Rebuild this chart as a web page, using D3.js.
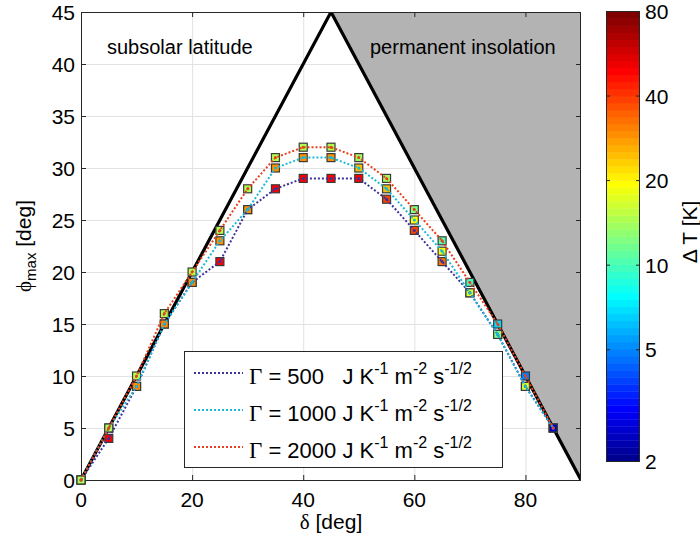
<!DOCTYPE html>
<html><head><meta charset="utf-8">
<script src="https://cdn.jsdelivr.net/npm/d3@7/dist/d3.min.js"></script>
<style>
body{margin:0;background:#fff;}
svg text{font-family:"Liberation Sans",Arial,sans-serif;fill:#000;}
</style></head><body>
<svg id="chart" width="700" height="545"></svg>
<script>
// ---- data ----
const delta = [0,5,10,15,20,25,30,35,40,45,50,55,60,65,70,75,80,85];
const phi500  = [0,4,9,15,19,21,26,28,29,29,29,27,24,21,18,14,9,5];
const phi1000 = [0,5,9,15,19,23,26,30,31,31,30,28,25,22,18,14,9,5];
const phi2000 = [0,5,10,16,20,24,28,31,32,32,31,29,26,23,19,15,10,5];
const dT500  = [15,48,48,48,48,48,48,48,48,48,48,40,38,32,17,13,17,2.5];
const dT1000 = [15,15,29,29,29,29,29,29,29,29,25,24,20,20,16.5,12.5,16.5,2.5];
const dT2000 = [14.5,14.5,14.5,14.5,14.5,14.5,14.5,14.5,14.5,14.5,13.5,13.5,12,10.5,10,6.8,5,2.4];
const seriesNames = ["500  ", "1000", "2000"];
const seriesColors = ["#3c3399", "#1cb8d8", "#e8401e"];
const xTicks = [0,20,40,60,80];
const yTicks = [0,5,10,15,20,25,30,35,40,45];
const cbTicks = [2,5,10,20,40,80];

const svg = d3.select("#chart");
const x = d3.scaleLinear().domain([0,90]).range([81,581]);
const y = d3.scaleLinear().domain([0,45]).range([480,12]);
const cb = d3.scaleLog().domain([2,80]).range([461.5,11.5]);

// MATLAB jet(64)
function jetMap(n){
  const m=16, J=d3.range(n).map(()=>[0,0,0]);
  const u=[]; for(let k=1;k<=16;k++)u.push(k/16); for(let k=0;k<15;k++)u.push(1); for(let k=16;k>=1;k--)u.push(k/16);
  for(let k=0;k<u.length;k++){
    const g=9+k, r=g+m, b=g-m;
    if(r<=n) J[r-1][0]=u[k];
    if(g<=n) J[g-1][1]=u[k];
    if(b>=1) J[b-1][2]=u[k];
  }
  return J.map(c=>d3.rgb(c[0]*255,c[1]*255,c[2]*255).toString());
}
const jet = jetMap(64);
const cnorm = d3.scaleLog().domain([2,80]).range([0,1]).clamp(true);
const colorOf = v => jet[Math.min(63, Math.floor(cnorm(v)*64))];

// defs / clip
svg.append("defs").append("clipPath").attr("id","plotclip")
  .append("rect").attr("x",x(0)).attr("y",y(45)).attr("width",x(90)-x(0)).attr("height",y(0)-y(45));

// grid
const grid = svg.append("g").attr("stroke","#e2e2e2").attr("stroke-width",1);
xTicks.forEach(t=>{ if(t>0) grid.append("line").attr("x1",x(t)+0.5).attr("x2",x(t)+0.5).attr("y1",y(0)).attr("y2",y(45)); });
yTicks.forEach(t=>{ if(t>0&&t<45) grid.append("line").attr("x1",x(0)).attr("x2",x(90)).attr("y1",y(t)+0.5).attr("y2",y(t)+0.5); });

const plot = svg.append("g").attr("clip-path","url(#plotclip)");
// permanent insolation region
plot.append("path").attr("fill","#b3b3b3")
  .attr("d", d3.line()([[x(45),y(45)],[x(90),y(0)],[x(90),y(45)]]));
// triangle
plot.append("path").attr("fill","none").attr("stroke","#000").attr("stroke-width",3.2)
  .attr("d", d3.line()([[x(0),y(0)],[x(45),y(45)],[x(90),y(0)]]));

// frame + ticks
const frame = svg.append("g").attr("stroke","#262626").attr("stroke-width",1).attr("fill","none");
frame.append("rect").attr("x",x(0)+0.5).attr("y",y(45)+0.5).attr("width",x(90)-x(0)-1).attr("height",y(0)-y(45));
xTicks.forEach(t=>{
  frame.append("line").attr("x1",x(t)+0.5).attr("x2",x(t)+0.5).attr("y1",y(0)).attr("y2",y(0)-5);
  frame.append("line").attr("x1",x(t)+0.5).attr("x2",x(t)+0.5).attr("y1",y(45)).attr("y2",y(45)+5);
});
yTicks.forEach(t=>{
  frame.append("line").attr("x1",x(0)).attr("x2",x(0)+5).attr("y1",y(t)+0.5).attr("y2",y(t)+0.5);
  frame.append("line").attr("x1",x(90)).attr("x2",x(90)-5).attr("y1",y(t)+0.5).attr("y2",y(t)+0.5);
});

// squares (drawn above the frame, unclipped)
const phis=[phi500,phi1000,phi2000], dTs=[dT500,dT1000,dT2000];
const marks = svg.append("g");
phis.forEach((p,si)=>{
  marks.append("g").selectAll("rect").data(delta.map((d,i)=>({d,p:p[i],t:dTs[si][i]})))
    .join("rect")
    .attr("x",e=>x(e.d)-4).attr("y",e=>y(e.p)-4).attr("width",8).attr("height",8)
    .attr("fill",e=>colorOf(e.t)).attr("stroke","#3a3a3a").attr("stroke-width",1.2);
});
// lines
phis.forEach((p,si)=>{
  const pts = delta.map((d,i)=>[x(d),y(p[i])]);
  marks.append("path").attr("fill","none").attr("stroke",seriesColors[si]).attr("stroke-width",2)
    .attr("stroke-dasharray","2 2").attr("d",d3.line()(pts));
  marks.append("g").selectAll("circle").data(pts).join("circle")
    .attr("cx",q=>q[0]).attr("cy",q=>q[1]).attr("r",1.5).attr("fill",seriesColors[si]);
});

// tick labels
svg.append("g").selectAll("text").data(xTicks).join("text")
  .attr("x",d=>x(d)).attr("y",507).attr("text-anchor","middle").attr("font-size",21).text(d=>d);
svg.append("g").selectAll("text").data(yTicks).join("text")
  .attr("x",75).attr("y",d=>y(d)+7.5).attr("text-anchor","end").attr("font-size",21).text(d=>d);

// axis labels
const xl = svg.append("text").attr("x",331).attr("y",529).attr("text-anchor","middle").attr("font-size",21);
xl.append("tspan").attr("font-family","Liberation Serif").text("δ");
xl.append("tspan").text(" [deg]");
const yl = svg.append("text").attr("transform","translate(31,246) rotate(-90)").attr("text-anchor","middle").attr("font-size",21);
yl.append("tspan").attr("font-family","Liberation Serif").text("ϕ");
yl.append("tspan").attr("font-size",15).attr("dy",5).text("max");
yl.append("tspan").attr("dy",-5).text(" [deg]");

// annotations
svg.append("text").attr("x",107).attr("y",54).attr("font-size",20).text("subsolar latitude");
svg.append("text").attr("x",370).attr("y",54).attr("font-size",20).text("permanent insolation");

// legend
const lg = svg.append("g");
lg.append("rect").attr("x",184.5).attr("y",351.5).attr("width",318).attr("height",116)
  .attr("fill","#fff").attr("stroke","#262626").attr("stroke-width",1);
seriesNames.forEach((nm,i)=>{
  const cy = 373 + i*37;
  lg.append("line").attr("x1",194).attr("x2",243).attr("y1",cy).attr("y2",cy)
    .attr("stroke",seriesColors[i]).attr("stroke-width",2).attr("stroke-dasharray","2 2");
  const t = lg.append("text").attr("x",249).attr("y",cy+11).attr("font-size",22).style("white-space","pre");
  t.append("tspan").attr("font-family","Liberation Serif").attr("font-size",23).text("Γ");
  t.append("tspan").text(" = " + nm + " J K");
  t.append("tspan").attr("font-size",16).attr("dy",-10).text("-1");
  t.append("tspan").attr("dy",10).text(" m");
  t.append("tspan").attr("font-size",16).attr("dy",-10).text("-2");
  t.append("tspan").attr("dy",10).text(" s");
  t.append("tspan").attr("font-size",16).attr("dy",-10).text("-1/2");
});

// colorbar
const cbx0=606, cbx1=640;
const cbg = svg.append("g");
const lv = Math.log(2), hv = Math.log(80);
d3.range(64).forEach(k=>{
  const v0 = Math.exp(lv + (hv-lv)*k/64), v1 = Math.exp(lv + (hv-lv)*(k+1)/64);
  cbg.append("rect").attr("x",cbx0).attr("width",cbx1-cbx0)
    .attr("y",cb(v1)).attr("height",cb(v0)-cb(v1)+0.4).attr("fill",jet[k]);
});
cbg.append("rect").attr("x",cbx0+0.5).attr("y",cb(80)).attr("width",cbx1-cbx0-1).attr("height",cb(2)-cb(80))
  .attr("fill","none").attr("stroke","#262626").attr("stroke-width",1);
cbTicks.forEach(t=>{
  if(t!==2 && t!==80){
    cbg.append("line").attr("x1",cbx0).attr("x2",cbx0+4).attr("y1",cb(t)).attr("y2",cb(t)).attr("stroke","#262626");
    cbg.append("line").attr("x1",cbx1).attr("x2",cbx1-4).attr("y1",cb(t)).attr("y2",cb(t)).attr("stroke","#262626");
  }
});
cbg.selectAll("text.cbt").data(cbTicks).join("text").attr("class","cbt")
  .attr("x",645).attr("y",d=>cb(d)+7.5).attr("font-size",21).text(d=>d);
svg.append("text").attr("transform","translate(697,232) rotate(-90)").attr("text-anchor","middle")
  .attr("font-size",21).text("Δ T [K]");
</script>
</body></html>
